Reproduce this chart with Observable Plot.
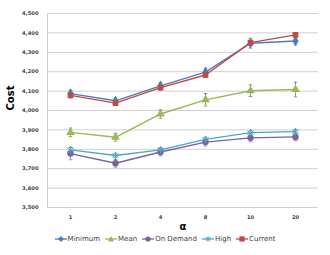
<!DOCTYPE html>
<html><head><meta charset="utf-8">
<script src="https://cdn.jsdelivr.net/npm/d3@7"></script>
<script src="https://cdn.jsdelivr.net/npm/@observablehq/plot@0.6"></script>
<style>
body{margin:0;background:#fff;}
#chart{width:330px;height:255px;position:relative;font-family:"DejaVu Sans",sans-serif;}
#legend{position:absolute;top:235px;left:0;width:330px;display:flex;justify-content:center;gap:5px;font-size:7px;color:#404040;}
#legend span{display:flex;align-items:center;gap:1px;}
</style></head>
<body><div id="chart"><div id="legend"></div></div>
<script>
const categories = ["1","2","4","8","10","20"];
const seriesNames = ["Minimum","Mean","On Demand","High","Current"];
const minimum  = [4087, 4050, 4127, 4198, 4347, 4358];
const mean     = [3887, 3862, 3982, 4055, 4102, 4108];
const onDemand = [3778, 3728, 3786, 3837, 3859, 3864];
const high     = [3797, 3768, 3797, 3851, 3886, 3891];
const current  = [4078, 4038, 4118, 4183, 4350, 4390];
const errMinimum  = [18, 15, 18, 20, 25, 20];
const errMean     = [22, 20, 22, 32, 30, 38];
const errOnDemand = [32, 20, 20, 20, 20, 20];
const errHigh     = [12, 12, 12, 12, 12, 12];
const errCurrent  = [12, 12, 12, 12, 12, 12];
const yTicks = [3500,3600,3700,3800,3900,4000,4100,4200,4300,4400,4500];

const colors = {"Minimum":"#4a7ebb","Mean":"#98b954","On Demand":"#7d60a0","High":"#46aac5","Current":"#be4b48"};
const symbols = {"Minimum":"diamond","Mean":"triangle","On Demand":"circle","High":"asterisk","Current":"square"};
const values = [minimum, mean, onDemand, high, current];
const errs = [errMinimum, errMean, errOnDemand, errHigh, errCurrent];
const data = [];
seriesNames.forEach((s,i)=>categories.forEach((c,j)=>data.push({series:s,a:c,v:values[i][j],e:errs[i][j]})));

const capSymbol = {draw(ctx,size){const w=1.8;ctx.moveTo(-w,0);ctx.lineTo(w,0);}};

const plot = Plot.plot({
  width:330, height:232,
  marginLeft:47, marginRight:12, marginTop:13, marginBottom:25,
  style:{fontFamily:"DejaVu Sans, sans-serif", background:"#fff"},
  x:{type:"point", domain:categories, padding:0.5, label:null},
  y:{domain:[3500,4500], label:null},
  marks:[
    Plot.ruleY(yTicks,{stroke:"#d0d0d0",strokeWidth:1}),
    Plot.axisY({ticks:yTicks, tickFormat:d3.format(","), tickSize:0, tickPadding:9, fontSize:5.2, fontWeight:"bold", fill:"#404040", label:null}),
    Plot.axisX({tickSize:0, tickPadding:8, fontSize:5.2, fontWeight:"bold", fill:"#404040", label:null}),
    Plot.text(["α"],{frameAnchor:"bottom", dy:22, fontSize:10, fontWeight:"bold", fill:"#000"}),
    Plot.text(["Cost"],{frameAnchor:"left", dx:-37, rotate:-90, fontSize:10, fontWeight:"bold", fill:"#000"}),
    Plot.ruleX(data,{x:"a", y1:d=>d.v-d.e, y2:d=>d.v+d.e, stroke:"#666", strokeWidth:0.7}),
    Plot.dot(data,{x:"a", y:d=>d.v-d.e, symbol:capSymbol, r:2, stroke:"#666", strokeWidth:0.7}),
    Plot.dot(data,{x:"a", y:d=>d.v+d.e, symbol:capSymbol, r:2, stroke:"#666", strokeWidth:0.7}),
    Plot.line(data,{x:"a", y:"v", z:"series", stroke:d=>colors[d.series], strokeWidth:1.4}),
    Plot.dot(data.filter(d=>d.series!=="High"),{x:"a", y:"v", symbol:d=>symbols[d.series], r:3.2, fill:d=>colors[d.series], stroke:"none"}),
    Plot.dot(data.filter(d=>d.series==="High"),{x:"a", y:"v", symbol:"asterisk", r:3.5, stroke:colors["High"], strokeWidth:1})
  ]
});
const chart = document.getElementById("chart");
chart.insertBefore(plot, chart.firstChild);
d3.select(plot).append("line").attr("x1",47.5).attr("x2",47.5).attr("y1",13).attr("y2",207).attr("stroke","#d0d0d0");

const leg = document.getElementById("legend");
const symPath = {"Minimum":"M0,-3L3,0L0,3L-3,0Z","Mean":"M0,-3L3,2.5L-3,2.5Z","Current":"M-2.6,-2.6H2.6V2.6H-2.6Z"};
seriesNames.forEach(s=>{
  const sp=document.createElement("span");
  let mk;
  if(s==="On Demand") mk=`<circle r="2.6" fill="${colors[s]}"/>`;
  else if(s==="High") mk=`<path d="M-3,0H3M0,-3V3M-2.2,-2.2L2.2,2.2M-2.2,2.2L2.2,-2.2" stroke="${colors[s]}" stroke-width="0.9"/>`;
  else mk=`<path d="${symPath[s]}" fill="${colors[s]}"/>`;
  sp.innerHTML=`<svg width="12" height="8" viewBox="-6 -4 12 8"><line x1="-6" x2="6" stroke="${colors[s]}" stroke-width="1.3"/>${mk}</svg>${s}`;
  leg.appendChild(sp);
});
</script></body></html>
